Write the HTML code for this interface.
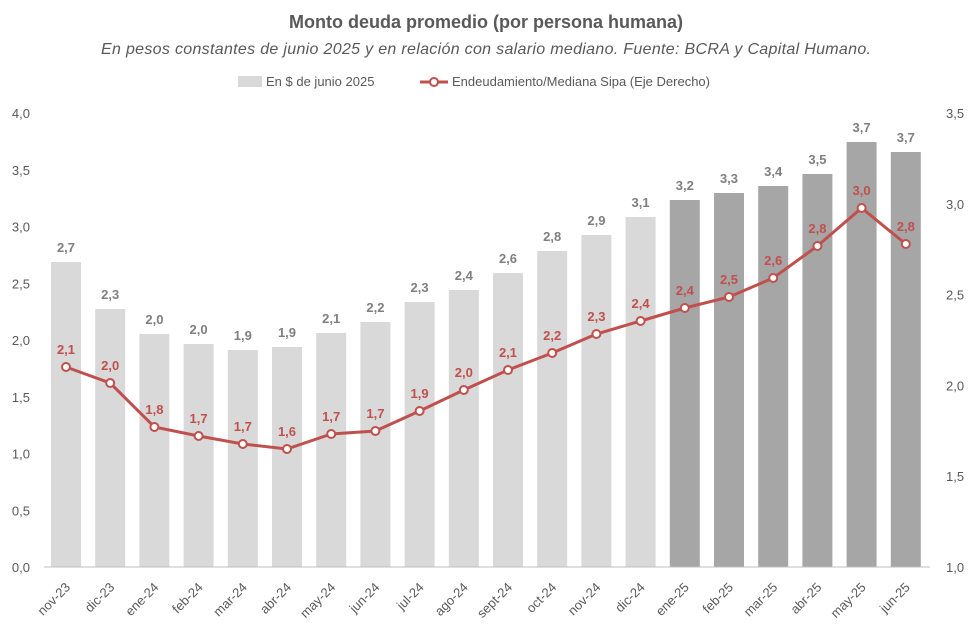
<!DOCTYPE html>
<html><head><meta charset="utf-8"><style>
body{margin:0;background:#fff;font-family:"Liberation Sans",sans-serif}
</style></head><body>
<svg width="973" height="635" xmlns="http://www.w3.org/2000/svg" font-family="Liberation Sans, sans-serif">
<rect width="973" height="635" fill="#fff"/>
<text x="486" y="28" text-anchor="middle" font-size="18" font-weight="bold" fill="#595959">Monto deuda promedio (por persona humana)</text>
<text x="486" y="54" text-anchor="middle" font-size="16" font-style="italic" fill="#595959" textLength="770">En pesos constantes de junio 2025 y en relación con salario mediano. Fuente: BCRA y Capital Humano.</text>
<rect x="238" y="76" width="24" height="11" fill="#d9d9d9"/>
<text x="266" y="86" font-size="13" fill="#595959">En $ de junio 2025</text>
<line x1="420" y1="82" x2="448" y2="82" stroke="#c0504d" stroke-width="3"/>
<circle cx="434" cy="82" r="4" fill="#fff" stroke="#c0504d" stroke-width="2"/>
<text x="452" y="86" font-size="13" fill="#595959">Endeudamiento/Mediana Sipa (Eje Derecho)</text>
<g font-size="13" fill="#595959" text-anchor="end" id="ly"></g>
<g font-size="13" fill="#595959" text-anchor="start" id="ry"></g>
<g id="bars"></g>
<line x1="44" y1="567" x2="930" y2="567" stroke="#bfbfbf" stroke-width="1"/>
<g id="line"></g>
<g id="xl" font-size="13" fill="#595959"></g>
</svg>
<script>
const ns="http://www.w3.org/2000/svg";
function el(p,t,a,txt){const e=document.createElementNS(ns,t);for(const k in a)e.setAttribute(k,a[k]);if(txt!==undefined)e.textContent=txt;document.getElementById(p).appendChild(e);return e;}
for(let i=0;i<=8;i++){const v=i*0.5;el("ly","text",{x:30,y:567-i*56.75+5},v.toFixed(1).replace('.',','));}
for(let i=0;i<=5;i++){const v=1+i*0.5;el("ry","text",{x:946,y:567-i*90.8+5},v.toFixed(1).replace('.',','));}
const cats=["nov-23","dic-23","ene-24","feb-24","mar-24","abr-24","may-24","jun-24","jul-24","ago-24","sept-24","oct-24","nov-24","dic-24","ene-25","feb-25","mar-25","abr-25","may-25","jun-25"];
const bt=[262,309,334,344,350,347,333,322,302,290,273,251,235,217,200,193,186,174,142,152];
const bl=["2,7","2,3","2,0","2,0","1,9","1,9","2,1","2,2","2,3","2,4","2,6","2,8","2,9","3,1","3,2","3,3","3,4","3,5","3,7","3,7"];
const ly=[367,383,427,436,444,449,434,431,411,390,370,353,334,321,308,297,278,246,208,244];
const ll=["2,1","2,0","1,8","1,7","1,7","1,6","1,7","1,7","1,9","2,0","2,1","2,2","2,3","2,4","2,4","2,5","2,6","2,8","3,0","2,8"];
const sp=44.2;
cats.forEach((c,i)=>{const x=66+i*sp;
el("bars","rect",{x:x-15,y:bt[i],width:30,height:567-bt[i],fill:i>=14?"#a6a6a6":"#d9d9d9"});
el("bars","text",{x:x,y:bt[i]-10,"text-anchor":"middle","font-size":"13","font-weight":"bold",fill:"#7f7f7f"},bl[i]);
el("xl","text",{x:x+5,y:588,"text-anchor":"end",transform:`rotate(-45 ${x+5} 588)`},c);
});
el("line","polyline",{points:ly.map((y,i)=>(66+i*sp)+","+y).join(" "),fill:"none",stroke:"#c0504d","stroke-width":"3"});
ly.forEach((y,i)=>{const x=66+i*sp;
el("line","circle",{cx:x,cy:y,r:4,fill:"#fff",stroke:"#c0504d","stroke-width":"2"});
el("line","text",{x:x,y:y-13,"text-anchor":"middle","font-size":"13","font-weight":"bold",fill:"#c0504d"},ll[i]);
});
</script>
</body></html>
